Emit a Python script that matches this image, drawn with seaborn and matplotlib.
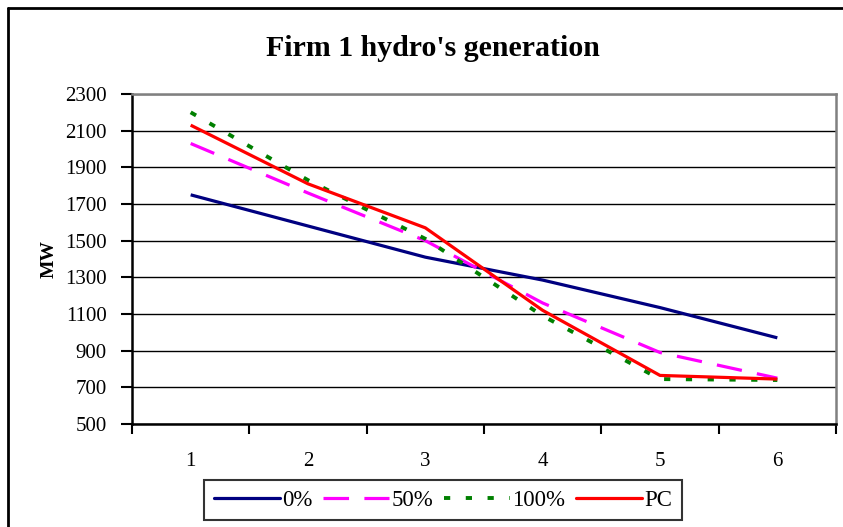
import matplotlib
matplotlib.use("Agg")
import matplotlib.pyplot as plt
import seaborn as sns
import pandas as pd
from matplotlib.lines import Line2D

periods = [1, 2, 3, 4, 5, 6]
series_names = ["0%", "50%", "100%", "PC"]
gen_0 = [1750, 1580, 1410, 1285, 1135, 970]
gen_50 = [2030, 1760, 1500, 1160, 890, 750]
gen_100 = [2200, 1830, 1510, 1090, 745, 740]
gen_pc = [2130, 1810, 1570, 1120, 765, 745]
y_ticks = [500, 700, 900, 1100, 1300, 1500, 1700, 1900, 2100, 2300]

df = pd.DataFrame({
    "period": periods * 4,
    "MW": gen_0 + gen_50 + gen_100 + gen_pc,
    "series": sum([[n] * 6 for n in series_names], []),
})

sns.set_theme(style="white")
plt.rcParams["font.family"] = ["Liberation Serif", "DejaVu Serif"]

W, H = 843, 527
fig = plt.figure(figsize=(W / 100, H / 100), dpi=100)
ax = fig.add_axes([132 / W, (H - 424) / H, (836 - 132) / W, (424 - 94) / H])

colors = {"0%": "#000080", "50%": "#FF00FF", "100%": "#008000", "PC": "#FF0000"}
dashes = {"0%": "", "50%": (8.0, 4.8), "100%": (1.6, 4.0), "PC": ""}
widths = {"0%": 2.3, "50%": 2.3, "100%": 2.8, "PC": 2.3}

sns.lineplot(data=df, x="period", y="MW", hue="series", style="series",
             palette=colors, dashes=dashes, hue_order=series_names,
             style_order=series_names, legend=False, ax=ax)
for line, name in zip(ax.get_lines(), series_names):
    line.set_linewidth(widths[name])
    line.set_solid_capstyle("butt")
    line.set_dash_capstyle("butt")

ax.set_xlim(0.5, 6.5)
ax.set_ylim(500, 2300)
ax.set_yticks(y_ticks)
ax.set_yticklabels([str(v) for v in y_ticks], fontsize=15)
ax.set_xticks([0.5 + i for i in range(7)])
ax.set_xticklabels([])
ax.set_xticks(periods, minor=True)
ax.set_xticklabels([str(p) for p in periods], minor=True, fontsize=15)
ax.tick_params(axis="x", which="major", direction="out", length=7, width=1.5, color="black", bottom=True)
ax.tick_params(axis="x", which="minor", length=0, pad=20, labelcolor="black")
ax.tick_params(axis="y", direction="out", length=8, width=1.5, color="black", left=True, pad=10, labelcolor="black")

ax.yaxis.grid(True, color="black", linewidth=1.0)
ax.xaxis.grid(False)
ax.set_axisbelow(True)
for s in ["left", "bottom"]:
    ax.spines[s].set_color("black")
    ax.spines[s].set_linewidth(1.8)
for s in ["top", "right"]:
    ax.spines[s].set_color("#808080")
    ax.spines[s].set_linewidth(1.8)
    ax.spines[s].set_visible(True)

ax.set_xlabel("")
ax.set_ylabel("MW", fontsize=14, fontweight="bold", color="black")
ax.yaxis.set_label_coords(-0.105, 0.5)

fig.text(433 / W, 1 - 48 / H, "Firm 1 hydro's generation", ha="center", va="center",
         fontsize=21.5, fontweight="bold", color="black")

handles = []
for n in series_names:
    h = Line2D([0], [0], color=colors[n], linewidth=widths[n])
    if dashes[n]:
        h.set_dashes(dashes[n])
    handles.append(h)
leg = fig.legend(handles, series_names, loc="center", bbox_to_anchor=(443 / W, 27 / H),
                 ncol=4, fontsize=16.5, frameon=True, fancybox=False, handlelength=2.9,
                 handletextpad=0.1, columnspacing=0.45, borderpad=0.4, borderaxespad=0)
leg.get_frame().set_edgecolor("black")
leg.get_frame().set_linewidth(1.5)
for t in leg.get_texts():
    t.set_color("black")

# outer chart border (left and top visible)
fig.add_artist(Line2D([7.5 / W, 7.5 / W], [0, 1 - 7.5 / H], transform=fig.transFigure, color="black", linewidth=2))
fig.add_artist(Line2D([7.5 / W, 1], [1 - 7.5 / H, 1 - 7.5 / H], transform=fig.transFigure, color="black", linewidth=2))

fig.savefig("out.png", dpi=100)
